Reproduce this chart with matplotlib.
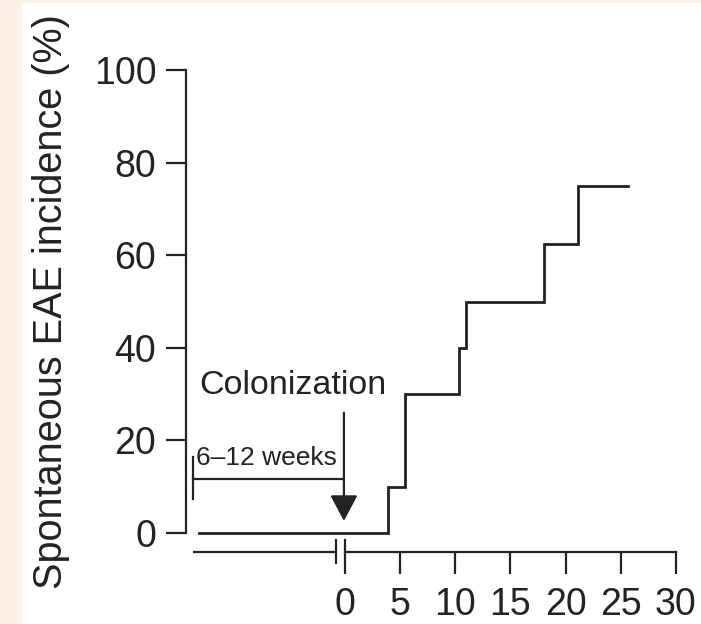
import matplotlib.pyplot as plt
from matplotlib.patches import Rectangle

# Kaplan-Meier style step curve (days after colonization)
days = [-13.2, 3.9, 5.4, 10.3, 11.0, 18.0, 21.1, 25.7]
incidence = [0, 10, 30, 40, 50, 62.5, 75, 75]

y_ticks = [0, 20, 40, 60, 80, 100]
x_ticks = [0, 5, 10, 15, 20, 25, 30]

ink = '#232323'
plt.rcParams['font.family'] = ['Liberation Sans', 'DejaVu Sans']

fig = plt.figure(figsize=(7.01, 6.24), dpi=100, facecolor='#fcf1e6')
fig.patches.append(Rectangle((22 / 701, 0), 1, 1 - 3 / 624, transform=fig.transFigure,
                             facecolor='white', edgecolor='none', zorder=-1))

ax = fig.add_axes([186.2 / 701, 1 - 552 / 624, 490.8 / 701, 482 / 624])
ax.set_facecolor('none')
ax.set_xlim(-14.4, 30.1)
ax.set_ylim(-4.1, 100)

ax.step(days, incidence, where='post', color=ink, lw=2.0, solid_joinstyle='miter')

for side in ['top', 'right']:
    ax.spines[side].set_visible(False)
ax.spines['left'].set_bounds(0, 100)
ax.spines['bottom'].set_bounds(0, 30)
for side in ['left', 'bottom']:
    ax.spines[side].set_linewidth(1.6)
    ax.spines[side].set_color(ink)

ax.set_yticks(y_ticks)
ax.set_xticks(x_ticks)
ax.tick_params(axis='y', length=14.5, width=1.6, pad=7, labelsize=27, colors=ink)
ax.tick_params(axis='x', length=16, width=1.6, pad=9, labelsize=27, colors=ink)

# axis segment before colonization, with break marks
ax.plot([-13.8, -0.8], [-4.1, -4.1], color=ink, lw=1.6, clip_on=False, solid_capstyle='butt')
ax.plot([-0.8, -0.8], [-1.5, -6.4], color=ink, lw=1.6, clip_on=False)
ax.plot([0, 0], [-1.5, -4.1], color=ink, lw=1.6, clip_on=False)

# 6-12 weeks bracket
ax.plot([-13.8, -13.8], [7.3, 16.4], color=ink, lw=1.6, clip_on=False)
ax.plot([-13.8, -0.2], [11.7, 11.7], color=ink, lw=1.6, clip_on=False)
ax.text(-13.5, 13.6, '6\u201312 weeks', fontsize=19, color=ink, ha='left', va='bottom')

# colonization arrow
ax.text(-13.2, 28.6, 'Colonization', fontsize=24.5, color=ink, ha='left', va='bottom')
ax.annotate('', xy=(-0.1, 2.6), xytext=(-0.1, 26.0),
            arrowprops=dict(arrowstyle='-|>,head_length=1.6,head_width=0.85',
                            color=ink, lw=1.6, shrinkA=0, shrinkB=0))

fig.text(51 / 701, 1 - 302 / 624, 'Spontaneous EAE incidence (%)', rotation=90,
         fontsize=28.5, color=ink, ha='center', va='center')

fig.savefig('out.png', dpi=100, facecolor=fig.get_facecolor())
